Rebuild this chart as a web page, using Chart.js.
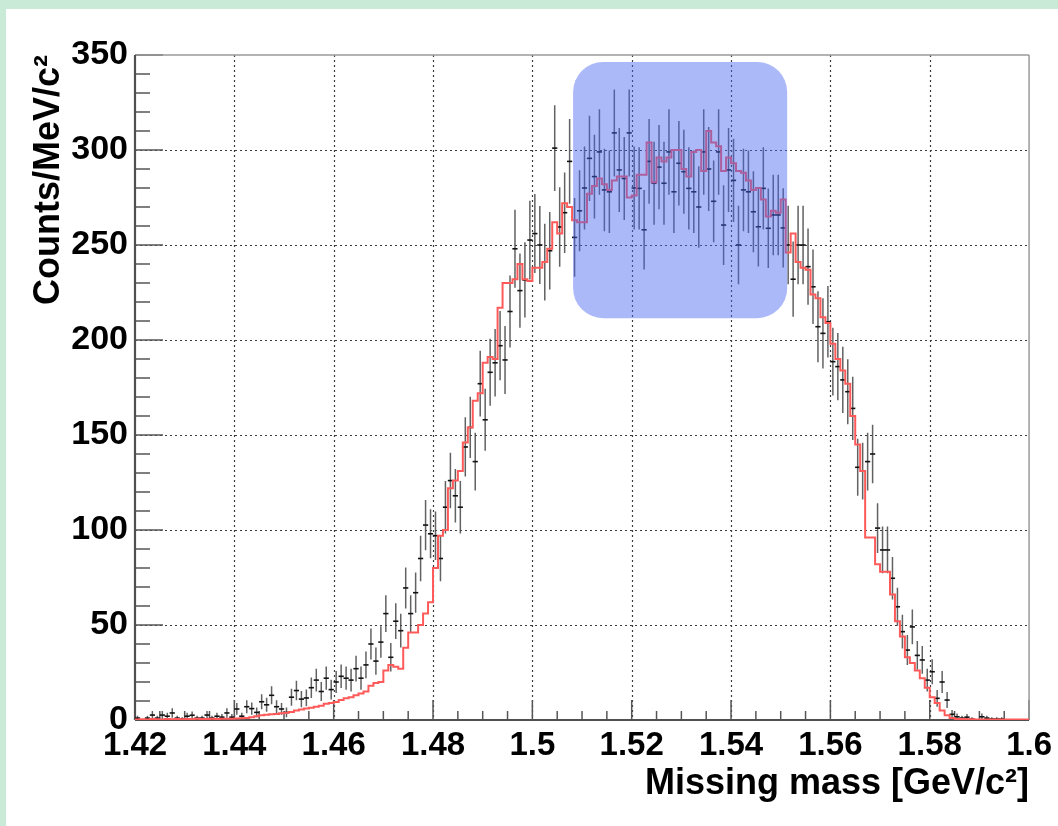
<!DOCTYPE html>
<html>
<head>
<meta charset="utf-8">
<title>Missing mass</title>
<script src="https://cdn.jsdelivr.net/npm/chart.js@4.4.1/dist/chart.umd.min.js"></script>
<style>
  html { margin: 0; padding: 0; overflow: hidden; background: #fff; }
  body { margin: 0; padding: 0; width: 1058px; height: 826px; background: #c8ead7; position: relative; overflow: hidden; }
  #panel { position: absolute; left: 6px; top: 9px; right: 0; bottom: 0; background: #fff; }
  #mm { display: block; }
</style>
</head>
<body>
<div id="panel"><canvas id="mm" width="1052" height="817"></canvas></div>
<script>
// histogram binning: 180 bins of 1 MeV from 1.42 to 1.60 GeV/c2
var binStart = 1.42;
var binWidth = 0.001;

var xTickValues = [1.42, 1.44, 1.46, 1.48, 1.5, 1.52, 1.54, 1.56, 1.58, 1.6];
var yTickValues = [0, 50, 100, 150, 200, 250, 300, 350];

// measured counts per bin (null = empty bin)
var dataCounts = [
    1, null, 1, 2.6, 1, 2.6, 2, 3.7, 1, 0.5,
    2, 2.5, 1, 1, 2.6, 1, 2, 1.5, 3.7, 1.5,
    5.8, 2, 7, 6, 4, 9.6, 8, 13, 7, 5.8,
    4, 12, 15.5, 11, 11.6, 17, 21, 15, 22, 16,
    20, 23, 22, 21, 27, 22, 29, 40, 31, 41,
    56, 33, 52, 47, 69.5, 56, 67, 85, 102.6, 98,
    97, 85, 112, 126, 118, 112, 143.7, 154, 136, 177,
    158, 183, 188, 197, 189.5, 215, 248, 226, 231.6, 252.6,
    256, 250, 241, 247, 301, 259.5, 267, 294, 254, 268,
    280, 295.6, 286, 299, 279, 278, 309, 289.5, 285, 309,
    280, 279.8, 258, 294, 282.5, 291, 282.5, 299, 278, 293,
    288.6, 279.8, 278, 270, 299, 290, 273, 299, 260.5, 289.5,
    284, 250, 279, 278, 267.5, 259.6, 279.8, 258.8, 265.8, 265.8,
    259, 250, 232, 250, 250, 238.6, 228, 207, 203.5, 209.6,
    188.6, 186, 179, 172.8, 164, 133, 131, 136, 140, 101,
    89.5, 89.5, 74.6, 59.6, 46.5, 36.8, 49, 34, 31.6, 21,
    25.4, 11.4, 20, 10.5, 3, 1.7, 1, 1.5, 0.5, null,
    1.7, 1, 0.5, 0.5, 0.5, null, null, null, null, null
];

// statistical errors of the measured counts
var dataErrors = [
    1.3, null, 1.3, 2.1, 1.3, 2.1, 1.8, 2.5, 1.3, 0.9,
    1.8, 2, 1.3, 1.3, 2.1, 1.3, 1.8, 1.6, 2.5, 1.6,
    3.1, 1.8, 3.4, 3.2, 2.6, 4, 3.7, 4.7, 3.4, 3.1,
    2.6, 4.5, 5.1, 4.3, 4.4, 5.4, 6, 5, 6.1, 5.2,
    5.8, 6.2, 6.1, 6, 6.8, 6.1, 7, 8.2, 7.2, 8.3,
    9.7, 7.5, 9.4, 8.9, 10.8, 9.7, 10.6, 12, 13.2, 12.9,
    12.8, 12, 13.8, 14.6, 14.1, 13.8, 15.6, 16.1, 15.2, 17.3,
    16.3, 17.6, 17.8, 18.2, 17.9, 19, 20.5, 19.5, 19.8, 20.7,
    20.8, 20.5, 20.2, 20.4, 22.6, 20.9, 21.2, 22.3, 20.7, 21.3,
    21.8, 22.4, 22, 22.5, 21.7, 21.7, 22.9, 22.1, 21.9, 22.9,
    21.8, 21.7, 20.9, 22.3, 21.9, 22.2, 21.9, 22.5, 21.7, 22.2,
    22.1, 21.7, 21.7, 21.4, 22.5, 22.1, 21.5, 22.5, 21, 22.1,
    21.9, 20.6, 21.7, 21.7, 21.3, 20.9, 21.7, 20.9, 21.2, 21.2,
    20.9, 20.6, 19.8, 20.6, 20.6, 20.1, 19.6, 18.7, 18.5, 18.8,
    17.8, 17.7, 17.4, 17.1, 16.6, 15, 14.9, 15.2, 15.4, 13.1,
    12.3, 12.3, 11.2, 10, 8.9, 7.9, 9.1, 7.6, 7.3, 6,
    6.6, 4.4, 5.8, 4.2, 2.3, 1.7, 1.3, 1.6, 0.9, null,
    1.7, 1.3, 0.9, 0.9, 0.9, null, null, null, null, null
];

// simulated spectrum (red histogram)
var simCounts = [
    0.3, 0.4, 0.3, 0.5, 0.4, 0.3, 0.5, 0.4, 0.5, 0.4,
    0.5, 0.4, 0.6, 0.5, 0.5, 0.6, 0.5, 0.7, 0.6, 0.7,
    0.8, 0.9, 1, 1.5, 2, 2.5, 2.8, 3, 3.2, 3.5,
    3.8, 4.2, 5, 5.5, 6, 6.5, 7, 7.5, 8.5, 9,
    9.5, 10.5, 11.5, 12, 13, 14, 15, 18, 19.5, 20,
    26, 29, 28, 27, 38, 46, 46, 50, 56, 62,
    80, 97, 100, 122, 126, 131, 146, 154, 168, 172,
    188, 191, 190, 217, 230, 230, 232, 240, 232, 231,
    238, 238, 241, 248, 262, 256, 272, 270, 263, 262,
    262, 277, 281, 285, 282, 279, 284, 286, 286, 275,
    276, 287, 287, 304, 283, 296, 294, 296, 300, 300,
    290, 286, 299, 300, 289, 310, 304, 302, 289, 296,
    293, 289, 288, 284, 279, 280, 274, 265, 268, 267,
    274, 246, 256, 241, 238, 237, 224, 222, 212, 209,
    198, 190, 184, 177, 160, 145, 131, 96, 96, 82,
    78, 78, 66, 52, 44, 33, 30, 26, 22, 17,
    12, 9, 5, 2.5, 1, 0.5, 0.5, 0.4, 0.4, 0.3,
    0.3, 0.3, 0.2, 0.2, 0.2, 0.2, 0.2, 0.2, 0.2, 0.2
];

// highlighted region (x range in GeV/c2, y range in counts)
var highlightX = [1.5082, 1.5513];
var highlightY = [211.5, 346.3];

var fontFamily = "'Liberation Sans', Arial, Helvetica, sans-serif";

// points for markers, error bars and the step line
var markerPts = [];
var errorPts = [];
dataCounts.forEach(function (v, i) {
    if (v === null) return;
    var xc = binStart + (i + 0.5) * binWidth;
    markerPts.push({ x: xc, y: v });
    errorPts.push({ x: xc, y: v - dataErrors[i] });
    errorPts.push({ x: xc, y: v + dataErrors[i] });
    errorPts.push({ x: xc, y: null });
});
var simPts = simCounts.map(function (v, i) {
    return { x: binStart + i * binWidth, y: v };
});
simPts.push({ x: binStart + simCounts.length * binWidth, y: simCounts[simCounts.length - 1] });

function segment(ctx, x0, y0, x1, y1) {
    ctx.beginPath();
    ctx.moveTo(x0, y0);
    ctx.lineTo(x1, y1);
    ctx.stroke();
}

// ROOT-like frame: dotted grid, inward ticks, axis lines
var framePlugin = {
    id: "frame",
    beforeDatasetsDraw: function (chart) {
        var ctx = chart.ctx, a = chart.chartArea;
        var xs = chart.scales.x, ys = chart.scales.y;
        ctx.save();

        ctx.strokeStyle = "#3c3c3c";
        ctx.lineWidth = 1.2;
        ctx.setLineDash([2, 3]);
        xTickValues.slice(1, -1).forEach(function (v) {
            var px = Math.round(xs.getPixelForValue(v)) + 0.5;
            segment(ctx, px, a.top, px, a.bottom);
        });
        yTickValues.slice(1, -1).forEach(function (v) {
            var py = Math.round(ys.getPixelForValue(v)) + 0.5;
            segment(ctx, a.left, py, a.right, py);
        });
        ctx.setLineDash([]);

        ctx.strokeStyle = "#555";
        ctx.lineWidth = 1.5;
        for (var k = 0; k <= 36; k++) {
            var px = xs.getPixelForValue(binStart + k * 0.005);
            var len = k % 4 === 0 ? 20 : 9;
            segment(ctx, px, a.bottom, px, a.bottom - len);
        }
        for (var j = 0; j <= 35; j++) {
            var py = ys.getPixelForValue(j * 10);
            var w = j % 5 === 0 ? 28 : 15;
            segment(ctx, a.left, py, a.left + w, py);
        }

        ctx.strokeStyle = "#9a9a9a";
        ctx.lineWidth = 1.5;
        segment(ctx, a.left, a.top, a.right, a.top);
        segment(ctx, a.right, a.top, a.right, a.bottom);
        ctx.strokeStyle = "#505050";
        ctx.lineWidth = 2.2;
        segment(ctx, a.left, a.top, a.left, a.bottom);
        segment(ctx, a.left, a.bottom, a.right, a.bottom);
        ctx.restore();
    }
};

// translucent blue box drawn over the data
var highlightPlugin = {
    id: "highlight",
    afterDatasetsDraw: function (chart) {
        var ctx = chart.ctx, xs = chart.scales.x, ys = chart.scales.y;
        var x0 = xs.getPixelForValue(highlightX[0]);
        var x1 = xs.getPixelForValue(highlightX[1]);
        var y0 = ys.getPixelForValue(highlightY[1]);
        var y1 = ys.getPixelForValue(highlightY[0]);
        ctx.save();
        ctx.fillStyle = "rgba(70, 100, 240, 0.45)";
        ctx.beginPath();
        ctx.roundRect(x0, y0, x1 - x0, y1 - y0, 30);
        ctx.fill();
        ctx.restore();
    }
};

function fixedTicks(values) {
    return function (scale) {
        scale.ticks = values.map(function (v) { return { value: v }; });
    };
}

new Chart(document.getElementById("mm"), {
    type: "line",
    data: {
        datasets: [
            {
                label: "sim",
                data: simPts,
                borderColor: "rgb(255, 90, 90)",
                borderWidth: 2,
                stepped: true,
                pointRadius: 0,
                fill: false,
                order: 0
            },
            {
                label: "data",
                data: markerPts,
                showLine: false,
                pointStyle: "line",
                pointRadius: 2.6,
                pointBorderWidth: 1.6,
                pointBorderColor: "#111",
                order: 1
            },
            {
                label: "errors",
                data: errorPts,
                borderColor: "rgba(70, 70, 70, 0.85)",
                borderWidth: 1.5,
                pointRadius: 0,
                spanGaps: false,
                order: 2
            }
        ]
    },
    options: {
        responsive: false,
        animation: false,
        devicePixelRatio: 1,
        events: [],
        layout: { padding: { left: 0, top: 46, right: 27, bottom: 0 } },
        plugins: { legend: { display: false }, tooltip: { enabled: false } },
        scales: {
            x: {
                type: "linear",
                min: 1.42,
                max: 1.6,
                afterBuildTicks: fixedTicks(xTickValues),
                afterFit: function (scale) { scale.height = 106; },
                grid: { display: false, drawTicks: false },
                border: { display: false },
                ticks: {
                    autoSkip: false,
                    maxRotation: 0,
                    padding: 6,
                    color: "#000",
                    font: { family: fontFamily, size: 33, weight: "bold" },
                    callback: function (v) { return parseFloat(v.toFixed(2)).toString(); }
                },
                title: {
                    display: true,
                    text: "Missing mass [GeV/c\u00b2]",
                    align: "end",
                    color: "#000",
                    padding: { top: 0, bottom: 20 },
                    font: { family: fontFamily, size: 36, weight: "bold" }
                }
            },
            y: {
                type: "linear",
                min: 0,
                max: 350,
                afterBuildTicks: fixedTicks(yTickValues),
                afterFit: function (scale) { scale.width = 129; },
                grid: { display: false, drawTicks: false },
                border: { display: false },
                ticks: {
                    padding: 7,
                    color: "#000",
                    font: { family: fontFamily, size: 34, weight: "bold" }
                },
                title: {
                    display: true,
                    text: "Counts/MeV/c\u00b2",
                    align: "end",
                    color: "#000",
                    padding: { top: 21, bottom: 0 },
                    font: { family: fontFamily, size: 36, weight: "bold" }
                }
            }
        }
    },
    plugins: [framePlugin, highlightPlugin]
});
</script>
</body>
</html>
